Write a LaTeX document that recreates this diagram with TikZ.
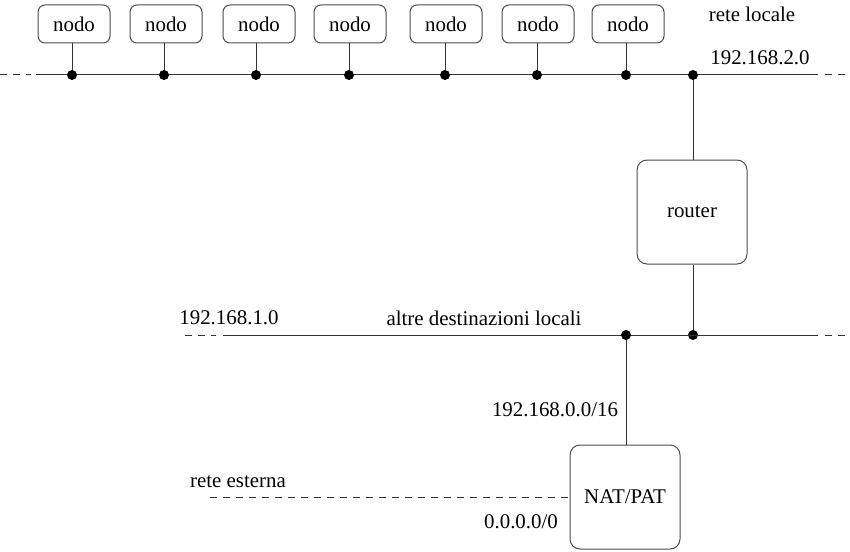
\documentclass[tikz,border=0pt]{standalone}
\usepackage{fontspec}
\setmainfont{Liberation Serif}
\begin{document}
\begin{tikzpicture}[x=0.5pt,y=-0.5pt,
  font=\fontsize{10.45}{12}\selectfont,
  wire/.style={draw=black!80,line width=0.5pt},
  dashwire/.style={draw=black!80,line width=0.5pt,dash pattern=on 3.5pt off 3pt},
  hostbox/.style={draw=black!70,line width=0.5pt,rounded corners=3.5pt,minimum width=36pt,minimum height=19pt,inner sep=0pt},
  bigbox/.style={draw=black!70,line width=0.5pt,rounded corners=5pt,minimum width=55pt,minimum height=52pt,inner sep=0pt},
  dot/.style={circle,fill=black,inner sep=0pt,minimum size=5pt},
  lbl/.style={inner sep=0pt}]
\useasboundingbox (0,0) rectangle (850,551);
% top bus
\coordinate (tl) at (36,75);
\coordinate (tr) at (818,75);
\coordinate (tld) at (0,75);
\coordinate (tldd) at (31,75);
\coordinate (trd) at (825,75);
\coordinate (trdd) at (850,75);
\draw[wire] (tl) -- (tr);
\draw[dashwire] (tld) -- (tldd);
\draw[dashwire] (trd) -- (trdd);
% hosts
\foreach \i/\x in {1/74,2/166,3/259,4/350,5/446,6/538,7/628}{
  \node[hostbox] (n\i) at (\x,24) {nodo};
}
\foreach \i/\x in {1/72,2/164,3/256,4/349,5/445,6/537,7/626}{
  \node[dot] (d\i) at (\x,75) {};
  \draw[wire] (n\i.south -| d\i) -- (d\i);
}
\node[lbl] (rl) at (752,14) {rete locale};
\node[lbl] (ip2) at (760,58) {192.168.2.0};
% router
\node[dot] (dr) at (693,75) {};
\node[bigbox] (router) at (692,212) {router};
\node[dot] (dr2) at (693,335) {};
\draw[wire] (dr) -- (router.north -| dr);
\draw[wire] (router.south -| dr2) -- (dr2);
% middle bus
\coordinate (ml) at (223,335);
\coordinate (mr) at (818,335);
\coordinate (mld) at (185,335);
\coordinate (mldd) at (216,335);
\coordinate (mrd) at (825,335);
\coordinate (mrdd) at (850,335);
\draw[wire] (ml) -- (mr);
\draw[dashwire] (mld) -- (mldd);
\draw[dashwire] (mrd) -- (mrdd);
\node[lbl] (ip1) at (229,318) {192.168.1.0};
\node[lbl] (ad) at (484,318) {altre destinazioni locali};
% NAT
\node[dot] (dn) at (626,335) {};
\node[bigbox] (nat) at (625,497) {NAT/PAT};
\draw[wire] (dn) -- (nat.north -| dn);
\node[lbl] (ip0) at (555,410) {192.168.0.0/16};
\coordinate (ext) at (210,497);
\draw[dashwire] (ext) -- (nat.west);
\node[lbl] (re) at (238,482) {rete esterna};
\node[lbl] (def) at (521,522) {0.0.0.0/0};
\end{tikzpicture}
\end{document}
